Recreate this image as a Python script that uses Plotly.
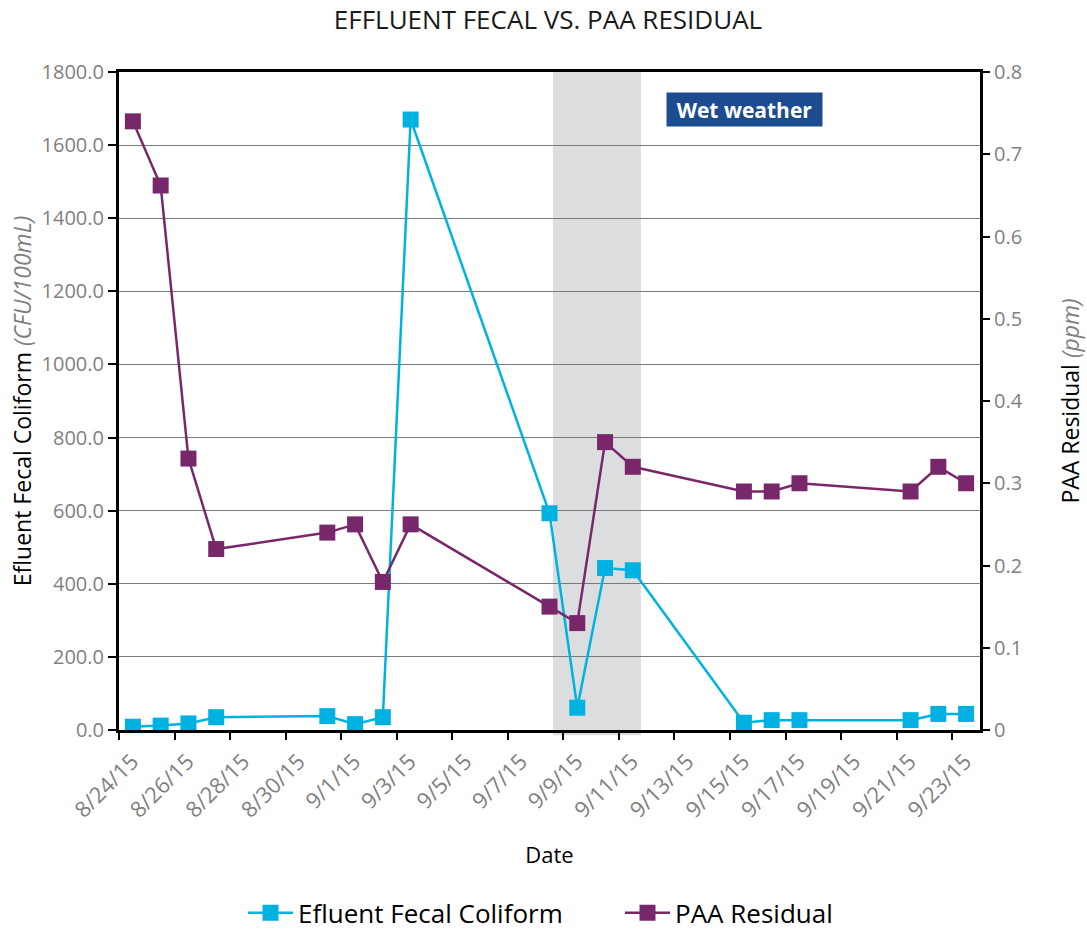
import plotly.graph_objects as go

# ---- data ----
dates = ["2015-08-24", "2015-08-25", "2015-08-26", "2015-08-27", "2015-08-31",
         "2015-09-01", "2015-09-02", "2015-09-03", "2015-09-08", "2015-09-09",
         "2015-09-10", "2015-09-11", "2015-09-15", "2015-09-16", "2015-09-17",
         "2015-09-21", "2015-09-22", "2015-09-23"]
fecal_coliform = [9, 12, 18, 35, 38, 16, 35, 1670, 593, 61,
                  443, 437, 20, 27, 27, 27, 44, 44]
paa_residual = [0.74, 0.662, 0.33, 0.22, 0.24, 0.25, 0.18, 0.25, 0.15, 0.13,
                0.35, 0.32, 0.29, 0.29, 0.30, 0.29, 0.32, 0.30]
tick_dates = ["2015-08-24", "2015-08-26", "2015-08-28", "2015-08-30", "2015-09-01",
              "2015-09-03", "2015-09-05", "2015-09-07", "2015-09-09", "2015-09-11",
              "2015-09-13", "2015-09-15", "2015-09-17", "2015-09-19", "2015-09-21",
              "2015-09-23"]
tick_labels = ["8/24/15", "8/26/15", "8/28/15", "8/30/15", "9/1/15", "9/3/15", "9/5/15",
               "9/7/15", "9/9/15", "9/11/15", "9/13/15", "9/15/15", "9/17/15", "9/19/15",
               "9/21/15", "9/23/15"]
left_ticks = [0, 200, 400, 600, 800, 1000, 1200, 1400, 1600, 1800]
right_ticks = [0, 0.1, 0.2, 0.3, 0.4, 0.5, 0.6, 0.7, 0.8]
right_tick_labels = ["0", "0.1", "0.2", "0.3", "0.4", "0.5", "0.6", "0.7", "0.8"]
wet_weather_start = "2015-09-08 15:00"
wet_weather_end = "2015-09-11 19:00"

# points sit in the middle of each day (date axis "between tick marks")
x_mid = [d + " 12:00" for d in dates]

FONT = "Open Sans"
GRAY = "#7f7f7f"
CYAN = "#00B2E2"
PURPLE = "#78286A"

fig = go.Figure()
fig.add_trace(go.Scatter(
    x=x_mid, y=fecal_coliform, name="Efluent Fecal Coliform", mode="lines+markers",
    line=dict(color=CYAN, width=2.5),
    marker=dict(symbol="square", size=16, color=CYAN), legend="legend",
))
fig.add_trace(go.Scatter(
    x=x_mid, y=paa_residual, name="PAA Residual", mode="lines+markers", yaxis="y2",
    line=dict(color=PURPLE, width=2.5),
    marker=dict(symbol="square", size=16, color=PURPLE), legend="legend2",
))

fig.add_shape(type="rect", xref="x", yref="paper", x0=wet_weather_start, x1=wet_weather_end,
              y0=-0.008, y1=1, fillcolor="#dcdddf", line=dict(width=0), layer="below")

fig.add_annotation(xref="paper", yref="paper", x=0.7265, y=0.943, text="<b>Wet weather</b>",
                   showarrow=False, font=dict(family=FONT, size=21, color="white"),
                   bgcolor="#1c4c8f", borderpad=3, width=149, height=27,
                   xanchor="center", yanchor="middle")

legend_common = dict(orientation="h", y=-0.2777, yanchor="middle", xanchor="left",
                     font=dict(family=FONT, size=26, color="black"), itemwidth=45,
                     bgcolor="rgba(0,0,0,0)")

fig.update_layout(
    width=1087, height=932,
    margin=dict(l=119, r=107, t=72, b=202, autoexpand=False),
    paper_bgcolor="white", plot_bgcolor="rgba(0,0,0,0)",
    font=dict(family=FONT, color="black"),
    title=dict(text="EFFLUENT FECAL VS. PAA RESIDUAL", x=548 / 1087, xanchor="center",
               y=1 - 20 / 932, yanchor="middle", font=dict(family=FONT, size=26, color="#1a1a1a")),
    showlegend=True,
    legend=dict(legend_common, x=(243 - 119) / 861),
    legend2=dict(legend_common, x=(620 - 119) / 861),
    xaxis=dict(
        type="date", range=["2015-08-24", "2015-09-24"], automargin=False,
        tickvals=tick_dates, ticktext=tick_labels, tickangle=-45, ticklabelshift=13,
        tickfont=dict(family=FONT, size=22, color=GRAY),
        ticks="outside", ticklen=7, tickwidth=2, tickcolor="black",
        showline=True, linecolor="black", linewidth=3, mirror=True,
        showgrid=False, zeroline=False,
        title=dict(text="Date", font=dict(family=FONT, size=22, color="black"), standoff=26),
    ),
    yaxis=dict(
        range=[0, 1800], tickvals=left_ticks, tickformat=".1f", automargin=False,
        tickfont=dict(family=FONT, size=20, color=GRAY),
        ticks="outside", ticklen=8, tickwidth=2, tickcolor="black",
        showline=True, linecolor="black", linewidth=3,
        showgrid=True, gridcolor="#7a7a7a", gridwidth=1, zeroline=False,
        title=dict(text="Efluent Fecal Coliform <i><span style='color:#7f7f7f'>(CFU/100mL)</span></i>",
                   font=dict(family=FONT, size=23, color="black"), standoff=4),
    ),
    yaxis2=dict(
        range=[0, 0.8], overlaying="y", side="right", tickvals=right_ticks, ticktext=right_tick_labels,
        automargin=False,
        tickfont=dict(family=FONT, size=20, color=GRAY),
        ticks="outside", ticklen=7, tickwidth=2, tickcolor="black",
        showline=True, linecolor="black", linewidth=3,
        showgrid=False, zeroline=False,
        title=dict(text="PAA Residual <i><span style='color:#7f7f7f'>(ppm)</span></i>",
                   font=dict(family=FONT, size=23, color="black"), standoff=42),
    ),
)

# remove the default 8px page margin so the figure fills the window exactly
fig.write_html("out.html", config={"displayModeBar": False},
               post_script="document.body.style.margin='0';")
